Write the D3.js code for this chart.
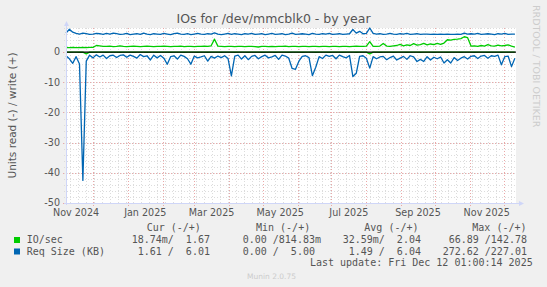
<!DOCTYPE html>
<html>
<head>
<meta charset="utf-8">
<script src="https://cdn.jsdelivr.net/npm/d3@7"></script>
<style>
    body { margin: 0; background: #f0f0f0; }
    svg { display: block; font-family: "DejaVu Sans", sans-serif; }
    .mono { font-family: "DejaVu Sans Mono", monospace; font-size: 10px; fill: #555; white-space: pre; }
</style>
</head>
<body>
<svg id="chart" width="547" height="287"></svg>
<script>
// munin "by year" window: 400 days ending at last update
var startTime = new Date(Date.UTC(2024, 10, 7, 1, 0, 14));
var endTime = new Date(Date.UTC(2025, 11, 12, 1, 0, 14));
var stepDays = 3;

// write (+) side
var writeIO = [
    1.5, 1.5, 1.6, 1.5, 1.5, 1.6, 1.5, 1.6, 1.6, 2.2,
    2.1, 1.9, 1.9, 2.0, 1.8, 1.9, 2.1, 1.9, 1.8, 1.9,
    2.0, 1.9, 1.8, 1.9, 2.0, 1.9, 1.8, 1.9, 1.9, 2.0,
    1.9, 1.8, 1.9, 1.9, 2.0, 1.8, 1.9, 1.9, 1.8, 1.9,
    1.9, 2.0, 1.9, 2.1, 4.3, 2.0, 1.9, 1.8, 1.9, 1.9,
    1.8, 1.9, 1.9, 1.8, 1.9, 1.9, 1.8, 1.7, 1.9, 1.9,
    1.8, 1.9, 1.8, 1.9, 1.9, 2.0, 1.8, 1.9, 1.9, 1.8,
    1.9, 1.9, 1.8, 1.9, 1.9, 1.8, 1.9, 1.9, 1.8, 1.9,
    1.9, 1.8, 1.9, 1.9, 1.8, 1.9, 2.0, 1.9, 1.9, 2.0,
    3.5, 1.9, 1.9, 2.0, 2.9, 2.0, 1.9, 2.1, 2.2, 2.6,
    2.1, 2.4, 2.2, 2.8, 2.3, 2.5, 2.9, 2.4, 2.7, 2.5,
    2.9, 2.6, 3.0, 4.1, 4.0, 4.2, 4.3, 4.5, 5.1, 4.8,
    2.0, 2.1, 1.9, 2.2, 2.0, 2.5, 2.1, 2.0, 2.3, 2.1,
    2.2, 2.4, 2.0, 1.7
];
var writeReq = [
    6.3, 7.6, 6.6, 6.2, 6.0, 6.3, 6.1, 5.9, 6.0, 6.2,
    6.1, 5.9, 6.2, 6.0, 6.3, 6.1, 5.9, 6.0, 6.2, 5.8,
    6.0, 6.1, 5.9, 6.3, 6.0, 5.8, 6.1, 6.0, 5.9, 6.2,
    6.0, 5.8, 6.1, 6.3, 6.0, 5.9, 6.1, 5.8, 6.0, 6.2,
    6.0, 5.9, 6.1, 6.0, 6.4, 6.0, 5.8, 6.0, 6.2, 5.9,
    6.1, 6.0, 5.8, 6.1, 6.0, 6.2, 5.9, 6.0, 6.1, 5.8,
    6.0, 6.2, 5.9, 6.0, 6.1, 5.8, 6.0, 6.3, 5.9, 6.0,
    6.1, 6.0, 5.8, 6.2, 6.0, 5.9, 6.1, 6.0, 6.2, 5.9,
    6.0, 6.1, 5.9, 6.0, 6.1, 7.5, 6.3, 6.9, 6.1, 6.2,
    8.0, 6.2, 6.0, 6.1, 5.9, 6.0, 6.2, 6.0, 5.9, 6.1,
    6.0, 6.2, 5.9, 6.0, 6.1, 5.9, 6.0, 6.0, 5.9, 6.0,
    5.9, 6.0, 5.9, 6.0, 5.9, 5.9, 6.0, 5.9, 6.3, 6.0,
    6.1, 6.0, 6.2, 5.9, 6.0, 6.1, 6.0, 5.8, 6.1, 6.0,
    6.2, 5.9, 6.0, 6.0
];

// read (-) side, already negated
var readIO = [
    -0.02, -0.03, -0.02, -0.02, -0.03, -0.02, -0.6, -0.02, -0.03, -0.02,
    -0.02, -0.02, -0.03, -0.02, -0.02, -0.02, -0.03, -0.02, -0.02, -0.02,
    -0.03, -0.02, -0.02, -0.02, -0.03, -0.02, -0.02, -0.03, -0.02, -0.02,
    -0.02, -0.03, -0.02, -0.02, -0.02, -0.03, -0.02, -0.02, -0.02, -0.03,
    -0.02, -0.02, -0.03, -0.02, -0.02, -0.02, -0.03, -0.02, -0.02, -0.02,
    -0.03, -0.02, -0.02, -0.02, -0.03, -0.02, -0.02, -0.02, -0.03, -0.02,
    -0.02, -0.02, -0.03, -0.02, -0.02, -0.02, -0.03, -0.02, -0.02, -0.02,
    -0.03, -0.02, -0.02, -0.02, -0.03, -0.02, -0.02, -0.02, -0.03, -0.02,
    -0.02, -0.02, -0.03, -0.02, -0.02, -0.02, -0.03, -0.02, -0.02, -0.02,
    -0.6, -0.02, -0.02, -0.03, -0.02, -0.02, -0.02, -0.03, -0.02, -0.02,
    -0.02, -0.03, -0.02, -0.02, -0.02, -0.03, -0.02, -0.02, -0.02, -0.03,
    -0.02, -0.02, -0.02, -0.03, -0.02, -0.02, -0.02, -0.03, -0.02, -0.02,
    -0.02, -0.03, -0.02, -0.02, -0.02, -0.03, -0.02, -0.02, -0.02, -0.03,
    -0.02, -0.02, -0.02, -0.02
];
var readReq = [
    -1.2, -2.2, -3.7, -1.5, -3.9, -42.5, -3.0, -1.0, -1.9, -0.9,
    -1.6, -1.0, -2.1, -1.2, -1.0, -1.8, -1.1, -0.9, -1.7, -1.0,
    -1.4, -2.0, -0.8, -1.5, -1.2, -2.6, -1.0, -1.9, -1.1, -2.0,
    -4.0, -1.5, -1.2, -2.3, -1.0, -1.4, -2.2, -4.0, -1.3, -1.9,
    -1.6, -1.2, -3.0, -1.4, -2.0, -1.3, -1.8, -1.2, -2.1, -7.9,
    -1.3, -1.0, -2.3, -1.2, -2.5, -1.4, -1.1, -2.2, -1.5, -1.0,
    -1.9, -1.6, -1.1, -2.4, -1.0, -1.3, -2.0, -5.4, -5.7, -3.0,
    -1.4, -1.2, -1.8, -7.8, -5.0, -1.5, -2.1, -1.0, -1.4, -1.1,
    -2.2, -1.0, -1.5, -1.9, -1.1, -8.1, -7.0, -1.4, -1.2, -2.0,
    -5.3, -1.5, -2.2, -1.6, -1.4, -2.5, -1.8, -1.3, -2.6, -2.0,
    -1.4, -2.4, -1.2, -1.6, -3.1, -2.4, -3.1, -1.5, -2.6, -1.7,
    -2.2, -1.6, -3.6, -2.5, -3.6, -1.8, -2.8, -2.0, -1.5, -2.3,
    -1.4, -1.2, -2.1, -1.3, -1.1, -2.0, -1.2, -1.4, -1.0, -4.2,
    -1.5, -1.3, -4.8, -2.0
];

var yTicks = [0, -10, -20, -30, -40, -50];
var monthLabels = ["2024-11", "2025-01", "2025-03", "2025-05", "2025-07", "2025-09", "2025-11"];

// legend table
var legendNames = ["IO/sec", "Req Size (KB)"];
var legendHeaders = ["Cur (-/+)", "Min (-/+)", "Avg (-/+)", "Max (-/+)"];
var legendCur = ["18.74m/  1.67", " 1.61 /  6.01"];
var legendMin = [" 0.00 /814.83m", " 0.00 /  5.00"];
var legendAvg = ["32.59m/  2.04", " 1.49 /  6.04"];
var legendMax = [" 66.89 /142.78", "272.62 /227.01"];
var lastUpdate = "Last update: Fri Dec 12 01:00:14 2025";

var colors = ["#00cc00", "#0066b3"];

function IOChart() {
    var self = this;
    self.init();
}

IOChart.prototype.init = function () {
    var self = this;
    self.margin = {top: 28, right: 31, bottom: 84, left: 66};
    self.svg = d3.select("#chart");
    self.width = 547;
    self.height = 287;

    self.x = d3.scaleUtc()
        .domain([startTime, endTime])
        .range([self.margin.left, self.width - self.margin.right]);
    self.y = d3.scaleLinear()
        .domain([-50, 8])
        .range([self.height - self.margin.bottom, self.margin.top]);
};

IOChart.prototype.update = function () {
    var self = this;
    var svg = self.svg;
    var x = self.x, y = self.y;
    var x0 = x.range()[0], x1 = x.range()[1];
    var y0 = y.range()[0], y1 = y.range()[1];

    // canvas
    svg.append("rect")
        .attr("x", x0).attr("y", y1)
        .attr("width", x1 - x0).attr("height", y0 - y1)
        .attr("fill", "#ffffff");

    var grid = svg.append("g").attr("shape-rendering", "crispEdges");

    // minor grid
    grid.selectAll(".hmin")
        .data(y.ticks(29))
        .enter().append("line")
        .attr("x1", x0 - 2).attr("x2", x1)
        .attr("y1", function (d) { return Math.round(y(d)) + 0.5; })
        .attr("y2", function (d) { return Math.round(y(d)) + 0.5; })
        .attr("stroke", "#dcdcdc")
        .attr("stroke-dasharray", "1,2");

    var weeks = d3.utcMonday.range(startTime, endTime);
    grid.selectAll(".vmin")
        .data(weeks)
        .enter().append("line")
        .attr("x1", function (d) { return Math.round(x(d)) + 0.5; })
        .attr("x2", function (d) { return Math.round(x(d)) + 0.5; })
        .attr("y1", y1).attr("y2", y0 + 2)
        .attr("stroke", "#dcdcdc")
        .attr("stroke-dasharray", "1,2");

    // major grid
    grid.selectAll(".hmaj")
        .data(yTicks)
        .enter().append("line")
        .attr("x1", x0 - 3).attr("x2", x1)
        .attr("y1", function (d) { return Math.round(y(d)) + 0.5; })
        .attr("y2", function (d) { return Math.round(y(d)) + 0.5; })
        .attr("stroke", "#eaa8a8")
        .attr("stroke-dasharray", "1,2");

    var months = d3.utcMonth.range(d3.utcMonth.ceil(startTime), endTime);
    grid.selectAll(".vmaj")
        .data(months)
        .enter().append("line")
        .attr("x1", function (d) { return Math.round(x(d)) + 0.5; })
        .attr("x2", function (d) { return Math.round(x(d)) + 0.5; })
        .attr("y1", y1).attr("y2", y0 + 3)
        .attr("stroke", "#eaa8a8")
        .attr("stroke-dasharray", "1,2");

    // series lines
    var timeOf = function (i) { return d3.utcDay.offset(startTime, i * stepDays); };
    var line = d3.line()
        .x(function (d, i) { return x(timeOf(i)); })
        .y(function (d) { return y(d); });

    var series = [
        {values: readIO, color: colors[0]},
        {values: writeIO, color: colors[0]},
        {values: readReq, color: colors[1]},
        {values: writeReq, color: colors[1]}
    ];
    svg.selectAll(".series")
        .data(series)
        .enter().append("path")
        .attr("class", "series")
        .attr("d", function (d) { return line(d.values); })
        .attr("fill", "none")
        .attr("stroke", function (d) { return d.color; })
        .attr("stroke-width", 1.3)
        .attr("stroke-linejoin", "round");

    // zero line
    svg.append("line")
        .attr("x1", x0).attr("x2", x1)
        .attr("y1", y(0)).attr("y2", y(0))
        .attr("stroke", "#000").attr("stroke-width", 1.4);

    // axes + arrows
    var axisColor = "#cfd6f8";
    svg.append("line")
        .attr("x1", x0 + 0.5).attr("x2", x0 + 0.5)
        .attr("y1", y0 + 2).attr("y2", y1 - 4)
        .attr("stroke", axisColor).attr("shape-rendering", "crispEdges");
    svg.append("line")
        .attr("x1", x0 - 2).attr("x2", x1 + 4)
        .attr("y1", y0 + 0.5).attr("y2", y0 + 0.5)
        .attr("stroke", axisColor).attr("shape-rendering", "crispEdges");
    svg.append("path")
        .attr("d", "M" + (x0 - 2) + "," + (y1 - 2) + "L" + (x0 + 3) + "," + (y1 - 2) + "L" + (x0 + 0.5) + "," + (y1 - 7) + "Z")
        .attr("fill", axisColor);
    svg.append("path")
        .attr("d", "M" + (x1 + 3) + "," + (y0 - 2) + "L" + (x1 + 3) + "," + (y0 + 3) + "L" + (x1 + 8) + "," + (y0 + 0.5) + "Z")
        .attr("fill", axisColor);

    // tick labels
    svg.selectAll(".ylab")
        .data(yTicks)
        .enter().append("text")
        .attr("x", x0 - 6)
        .attr("y", function (d) { return y(d) + 3.3; })
        .attr("text-anchor", "end")
        .attr("font-size", "9.6px")
        .attr("fill", "#555")
        .text(function (d) { return d; });

    var parseMonth = d3.utcParse("%Y-%m");
    var fmt = d3.utcFormat("%b %Y");
    svg.selectAll(".xlab")
        .data(monthLabels.map(parseMonth))
        .enter().append("text")
        .attr("x", function (d) {
            return (x(d) + x(d3.utcMonth.offset(d, 1))) / 2;
        })
        .attr("y", y0 + 12.5)
        .attr("text-anchor", "middle")
        .attr("font-size", "9.6px")
        .attr("fill", "#555")
        .text(fmt);

    // titles
    svg.append("text")
        .attr("x", self.width / 2).attr("y", 23)
        .attr("text-anchor", "middle")
        .attr("font-size", "12.5px")
        .attr("fill", "#555")
        .text("IOs for /dev/mmcblk0 - by year");

    svg.append("text")
        .attr("transform", "translate(16," + ((y0 + y1) / 2) + ") rotate(-90)")
        .attr("text-anchor", "middle")
        .attr("font-size", "10.5px")
        .attr("fill", "#555")
        .text("Units read (-) / write (+)");

    svg.append("text")
        .attr("transform", "translate(533,5) rotate(90)")
        .attr("font-size", "9.5px")
        .attr("fill", "#cccccc")
        .text("RRDTOOL / TOBI OETIKER");

    // legend
    var headerX = [146.7, 256, 364.3, 472.3];
    svg.selectAll(".lhead")
        .data(legendHeaders)
        .enter().append("text")
        .attr("class", "mono")
        .attr("x", function (d, i) { return headerX[i]; })
        .attr("y", 231)
        .text(function (d) { return d; });

    var rowY = [243, 254.5];
    legendNames.forEach(function (name, i) {
        svg.append("rect")
            .attr("x", 14).attr("y", rowY[i] - 6)
            .attr("width", 6).attr("height", 6)
            .attr("fill", colors[i]);
        var cols = [name, legendCur[i], legendMin[i], legendAvg[i], legendMax[i]];
        var colX = [26.7, 131.7, 236.7, 342.7, 442.7];
        cols.forEach(function (c, j) {
            svg.append("text")
                .attr("class", "mono")
                .attr("x", colX[j]).attr("y", rowY[i])
                .text(c);
        });
    });

    svg.append("text")
        .attr("class", "mono")
        .attr("x", 532.7).attr("y", 266)
        .attr("text-anchor", "end")
        .text(lastUpdate);

    svg.append("text")
        .attr("x", 271.5).attr("y", 279)
        .attr("text-anchor", "middle")
        .attr("font-size", "7.5px")
        .attr("fill", "#cccccc")
        .text("Munin 2.0.75");
};

var chart = new IOChart();
chart.update();
</script>
</body>
</html>
